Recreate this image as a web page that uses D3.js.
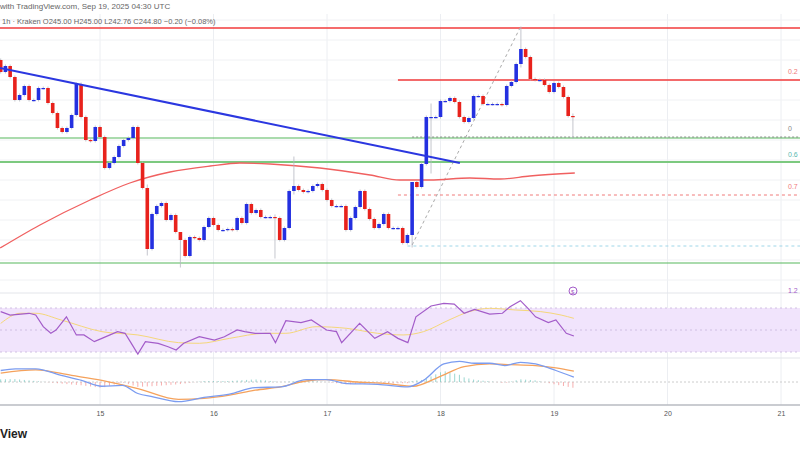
<!DOCTYPE html>
<html>
<head>
<script src="https://d3js.org/d3.v7.min.js"></script>
<style>
body { margin: 0; background: #fff; }
svg { font-family: "Liberation Sans", Arial, sans-serif; }
</style>
</head>
<body>
<svg id="chart" width="800" height="450"></svg>
<script>
// hourly closes, first candle Sep 14 03:00 (open of each = previous close)
var firstOpen = 256.0;
var closes = [254.8, 255.4, 254.3,
  252, 252.5, 253.4, 252, 252, 253.2, 253.2, 251.7, 250.7, 249.2,
  248.8, 249.2, 250.5, 253.6, 250.3, 248, 247.9, 249.3, 248.3, 245.2,
  245.7, 246.3, 247.4, 248, 248.2, 249.3, 245.7, 243.2, 237.1, 240.6,
  241.4, 241.7, 240, 240.5, 238.8, 238, 236.4, 238.3, 238.2, 238,
  239.3, 240.2, 239.5, 239, 239, 239.1, 239, 240.2, 239.7, 241.6,
  240.7, 241, 240.3, 240.3, 240.3, 240.2, 238, 239.2, 242.9, 243.4,
  243, 242.8, 242.9, 243.4, 243.6, 243, 242, 241.4, 241.4, 241.4,
  239, 240.2, 241.3, 242.9, 241.1, 240.1, 239.2, 239.6, 240.6, 239.2,
  239.2, 239.2, 237.7, 238.5, 243.8, 243.3, 245.6, 250.3, 250.3, 250.3,
  251.9, 251.9, 252.2, 251.8, 250.3, 249.8, 250.2, 252.4, 252.4, 251.6,
  251.6, 251.6, 251.6, 251.5, 253.4, 253.8, 255.6, 257.1, 256.3, 254.1, 254,
  254, 253.5, 252.8, 253.7, 253.3, 252.3, 250.4, 250.3];
// notable wicks: [index, high, low]
var wicks = [[31, 243.4, 236.6], [38, 238.4, 235.4], [58, 240.4, 236.3], [62, 246.2, 242.7],
  [87, 238.6, 237.4], [91, 251.5, 244.8], [110, 259.2, 255.4], [121, 250.5, 248.3]];

var dayTicks = ["2025-09-15", "2025-09-16", "2025-09-17", "2025-09-18", "2025-09-19", "2025-09-20", "2025-09-21"];

// overlays in [index, price]
var trendLine = [[-0.15, 255.2], [97.1, 245.7]];
var maLine = [[-0.1, 237.2], [8.3, 239.5], [18.9, 242], [27.3, 243.7], [35.8, 244.8], [44.3, 245.4],
  [50.6, 245.7], [57, 245.6], [67.5, 245.2], [78.1, 244.5], [84.4, 244], [90.8, 244],
  [99.2, 244.2], [105.6, 244.1], [111.9, 244.4], [121.4, 244.7]];
var fibDiag = [[87, 237.5], [109.8, 259.2]];
var levels = [
  {p: 259.2, from: -2, color: "#f23b3b", w: 1.3, dash: null},
  {p: 254.0, from: 84, color: "#f23b3b", w: 1.3, dash: null},
  {p: 248.2, from: -2, color: "#57b85c", w: 1.2, dash: null},
  {p: 245.8, from: -2, color: "#7cc97f", w: 2, dash: null},
  {p: 235.7, from: -2, color: "#57b85c", w: 1.2, dash: null},
  {p: 248.3, from: 87, color: "#777", w: 0.8, dash: "2,2"},
  {p: 242.5, from: 84, color: "#f07a7a", w: 1, dash: "3,3"},
  {p: 237.4, from: 86, color: "#9fd6e8", w: 1, dash: "3,3"}
];
var fibLabels = [["0.2", 254.6, "#f07a7a"], ["0", 248.9, "#888"], ["0.6", 246.3, "#5bb8b0"], ["0.7", 243.1, "#f07a7a"]];

// RSI [index, value] and its MA
var rsi = [[0, 66.7], [2, 63.6], [6, 65.2], [7.4, 63.6], [9, 53], [10.6, 47], [11.7, 50], [13.9, 62],
  [16, 45.5], [17.6, 45.5], [19.8, 39.4], [21.4, 42.4], [24.7, 48.5], [26.3, 47], [27.4, 39.4],
  [29, 28.2], [30.6, 39.4], [33.3, 37.9], [35.4, 34.8], [37.1, 31.8], [38.7, 37.9], [42, 43.9],
  [45.2, 40.9], [47.3, 43.9], [50, 50], [51.6, 48.5], [53.8, 47], [57, 47], [58.1, 38.5],
  [60.3, 58.5], [63.5, 56.7], [65.7, 59.1], [68.9, 50], [71, 48.5], [72.1, 38.5], [75.9, 56],
  [79.1, 42.4], [81.8, 48.5], [84, 42.4], [86.1, 38.5], [87.8, 62], [91, 71.8], [93.7, 74.2],
  [95.9, 73.6], [98, 65.2], [100.2, 68.8], [103.4, 64.5], [106.1, 65.2], [107.7, 71.2],
  [109.9, 76.7], [111.5, 69.7], [113.1, 62], [115.8, 56.7], [117.4, 59.1], [119.6, 47], [121.2, 44.5]];
var rsiMa = [[0, 56], [4.2, 65.2], [7.4, 65.2], [12.8, 59.1], [21.4, 48.5], [29, 45.5], [37.6, 38.5],
  [42, 37.9], [48.4, 42.4], [56, 47], [60.3, 47], [66.7, 53], [73.2, 51.5], [79.7, 47], [85.1, 45.5],
  [89.4, 48.5], [94.8, 59.1], [99.1, 66.7], [103.4, 69.7], [108.8, 68.2], [114.2, 66.7], [118.5, 63.6], [121.2, 60.6]];

// MACD and signal [index, value]
var macd = [[0, 3.5], [3.1, 4], [7.4, 4], [12.8, 2], [17.1, 0.5], [21.4, -1.3], [25.7, -1], [29, -3.5],
  [32.2, -4.5], [37.6, -6], [43, -4.7], [48.4, -3.7], [53.8, -1.7], [59.2, -1.5], [64.6, 0.7],
  [68.9, 0.7], [73.2, -0.5], [79.7, -0.7], [86.1, -1.5], [89.4, 0.5], [93.7, 5.5], [97, 6.3],
  [100.2, 5.7], [103.4, 5.7], [106.6, 5], [109.9, 6], [113.1, 5.5], [117.4, 3.5], [121.2, 1.5]];
var signal = [[0, 2.7], [7.4, 3.7], [15, 2], [21.4, 0.5], [29, -2], [37.6, -5.3], [43, -5], [48.4, -4],
  [53.8, -2.5], [59.2, -1.5], [64.6, 0.3], [68.9, 0.7], [75.4, 0], [81.8, -0.5], [87.2, -1.3],
  [92.6, 1.5], [98, 4.7], [103.4, 5.5], [107.7, 5.3], [113.1, 5], [117.4, 4.3], [121.2, 3.3]];

var svg = d3.select("#chart");
var t0 = Date.UTC(2025, 8, 14, 3);
var x = d3.scaleUtc().domain([new Date("2025-09-15T00:00Z"), new Date("2025-09-21T00:00Z")]).range([100, 781]);
var xi = function(i) { return x(new Date(t0 + i * 3600e3)); };
var y = d3.scaleLinear().domain([233, 262]).range([290, 0]);
var yR = d3.scaleLinear().domain([30, 70]).range([352, 308]);
var yM = d3.scaleLinear().domain([-7, 7]).range([405, 359]);

// grid
var g = svg.append("g");
dayTicks.forEach(function(d) {
  g.append("line").attr("x1", x(new Date(d + "T00:00Z"))).attr("x2", x(new Date(d + "T00:00Z")))
    .attr("y1", 14).attr("y2", 405).attr("stroke", "#eceef2");
});
d3.range(234, 262, 2).forEach(function(p) {
  g.append("line").attr("x1", 0).attr("x2", 800).attr("y1", y(p)).attr("y2", y(p)).attr("stroke", "#f0f1f4");
});
// pane separators
[293, 358].forEach(function(v) {
  g.append("line").attr("x1", 0).attr("x2", 800).attr("y1", v).attr("y2", v).attr("stroke", "#e3e5ea");
});
g.append("line").attr("x1", 0).attr("x2", 800).attr("y1", 405).attr("y2", 405).attr("stroke", "#b8bbc2").attr("stroke-width", 1.5);

// levels
levels.forEach(function(l) {
  svg.append("line").attr("x1", xi(l.from)).attr("x2", 800).attr("y1", y(l.p)).attr("y2", y(l.p))
    .attr("stroke", l.color).attr("stroke-width", l.w).attr("stroke-dasharray", l.dash);
});
fibLabels.forEach(function(f) {
  svg.append("text").attr("x", 788).attr("y", y(f[1])).attr("font-size", 7).attr("fill", f[2]).text(f[0]);
});

var line = d3.line().x(function(d) { return xi(d[0]); }).y(function(d) { return y(d[1]); });
svg.append("path").attr("d", line(fibDiag)).attr("fill", "none").attr("stroke", "#aaa").attr("stroke-dasharray", "3,3");
svg.append("path").attr("d", d3.line().curve(d3.curveMonotoneX).x(function(d) { return xi(d[0]); }).y(function(d) { return y(d[1]); })(maLine))
  .attr("fill", "none").attr("stroke", "#f06060").attr("stroke-width", 1.3);

// candles
var wickMap = {};
wicks.forEach(function(w) { wickMap[w[0]] = w; });
var candles = closes.map(function(c, i) {
  var o = i === 0 ? firstOpen : closes[i - 1];
  var w = wickMap[i];
  return {i: i, o: o, c: c, h: w ? w[1] : Math.max(o, c), l: w ? w[2] : Math.min(o, c)};
});
var cg = svg.append("g").selectAll("g").data(candles).enter().append("g");
cg.append("line").attr("x1", function(d) { return xi(d.i); }).attr("x2", function(d) { return xi(d.i); })
  .attr("y1", function(d) { return y(d.h) - 1.5; }).attr("y2", function(d) { return y(d.l) + 1.5; })
  .attr("stroke", "#b5b8c0").attr("stroke-width", 0.8);
cg.append("rect").attr("x", function(d) { return xi(d.i) - 1.8; }).attr("width", 3.6)
  .attr("y", function(d) { return y(Math.max(d.o, d.c)); })
  .attr("height", function(d) { return Math.max(1.2, Math.abs(y(d.o) - y(d.c))); })
  .attr("fill", function(d) { return d.c >= d.o ? "#2430e0" : "#e8221c"; });

svg.append("path").attr("d", line(trendLine)).attr("fill", "none").attr("stroke", "#2b37e0").attr("stroke-width", 2);

// RSI pane
svg.append("rect").attr("x", 0).attr("width", 800).attr("y", yR(70)).attr("height", yR(30) - yR(70)).attr("fill", "#f1e4fc");
[70, 50, 30].forEach(function(v) {
  svg.append("line").attr("x1", 0).attr("x2", 800).attr("y1", yR(v)).attr("y2", yR(v))
    .attr("stroke", "#c8b5dc").attr("stroke-dasharray", "2,3").attr("stroke-width", 0.8);
});
var lineR = d3.line().x(function(d) { return xi(d[0]); }).y(function(d) { return yR(d[1]); });
svg.append("path").attr("d", lineR.curve(d3.curveMonotoneX)(rsiMa)).attr("fill", "none").attr("stroke", "#f5d77a").attr("stroke-width", 1);
svg.append("path").attr("d", d3.line().x(function(d) { return xi(d[0]); }).y(function(d) { return yR(d[1]); })(rsi))
  .attr("fill", "none").attr("stroke", "#a35cc9").attr("stroke-width", 1.2);

// MACD pane
var macdAt = d3.scaleLinear().domain(macd.map(function(d) { return d[0]; })).range(macd.map(function(d) { return d[1]; }));
var sigAt = d3.scaleLinear().domain(signal.map(function(d) { return d[0]; })).range(signal.map(function(d) { return d[1]; }));
svg.append("line").attr("x1", 0).attr("x2", 800).attr("y1", yM(0)).attr("y2", yM(0)).attr("stroke", "#ccc").attr("stroke-dasharray", "2,2");
svg.append("g").selectAll("line").data(candles).enter().append("line")
  .attr("x1", function(d) { return xi(d.i); }).attr("x2", function(d) { return xi(d.i); })
  .attr("y1", yM(0)).attr("y2", function(d) { return yM(macdAt(d.i) - sigAt(d.i)); })
  .attr("stroke", function(d) { return macdAt(d.i) - sigAt(d.i) >= 0 ? "#7fcbc4" : "#f59a9a"; }).attr("stroke-width", 0.8);
var lineM = d3.line().curve(d3.curveMonotoneX).x(function(d) { return xi(d[0]); }).y(function(d) { return yM(d[1]); });
svg.append("path").attr("d", lineM(signal)).attr("fill", "none").attr("stroke", "#f5a25c").attr("stroke-width", 1.3);
svg.append("path").attr("d", lineM(macd)).attr("fill", "none").attr("stroke", "#7b9cf0").attr("stroke-width", 1.3);

// marker icon and label
svg.append("circle").attr("cx", 573).attr("cy", 291).attr("r", 4).attr("fill", "none").attr("stroke", "#a35cc9");
svg.append("text").attr("x", 571).attr("y", 294).attr("font-size", 6).attr("fill", "#a35cc9").text("$");
svg.append("text").attr("x", 788).attr("y", 293).attr("font-size", 7).attr("fill", "#a35cc9").text("1.2");

// x axis
var ax = svg.append("g").attr("transform", "translate(0,405)")
  .call(d3.axisBottom(x).tickValues(dayTicks.map(function(d) { return new Date(d + "T00:00Z"); }))
    .tickFormat(d3.utcFormat("%-d")).tickSize(0).tickPadding(6));
ax.select(".domain").remove();
ax.selectAll("text").attr("font-size", 7).attr("fill", "#555");

// header
svg.append("rect").attr("x", 0).attr("y", 0).attr("width", 800).attr("height", 13).attr("fill", "#fff");
svg.append("text").attr("x", 0).attr("y", 9).attr("font-size", 8).attr("fill", "#666").text("with TradingView.com, Sep 19, 2025 04:30 UTC");
svg.append("text").attr("x", 2).attr("y", 24).attr("font-size", 7.5).attr("fill", "#666")
  .text("1h · Kraken   O245.00  H245.00  L242.76  C244.80  −0.20 (−0.08%)");
svg.append("text").attr("x", 0).attr("y", 438).attr("font-size", 12).attr("font-weight", "bold").attr("fill", "#222").text("View");
</script>
</body>
</html>
